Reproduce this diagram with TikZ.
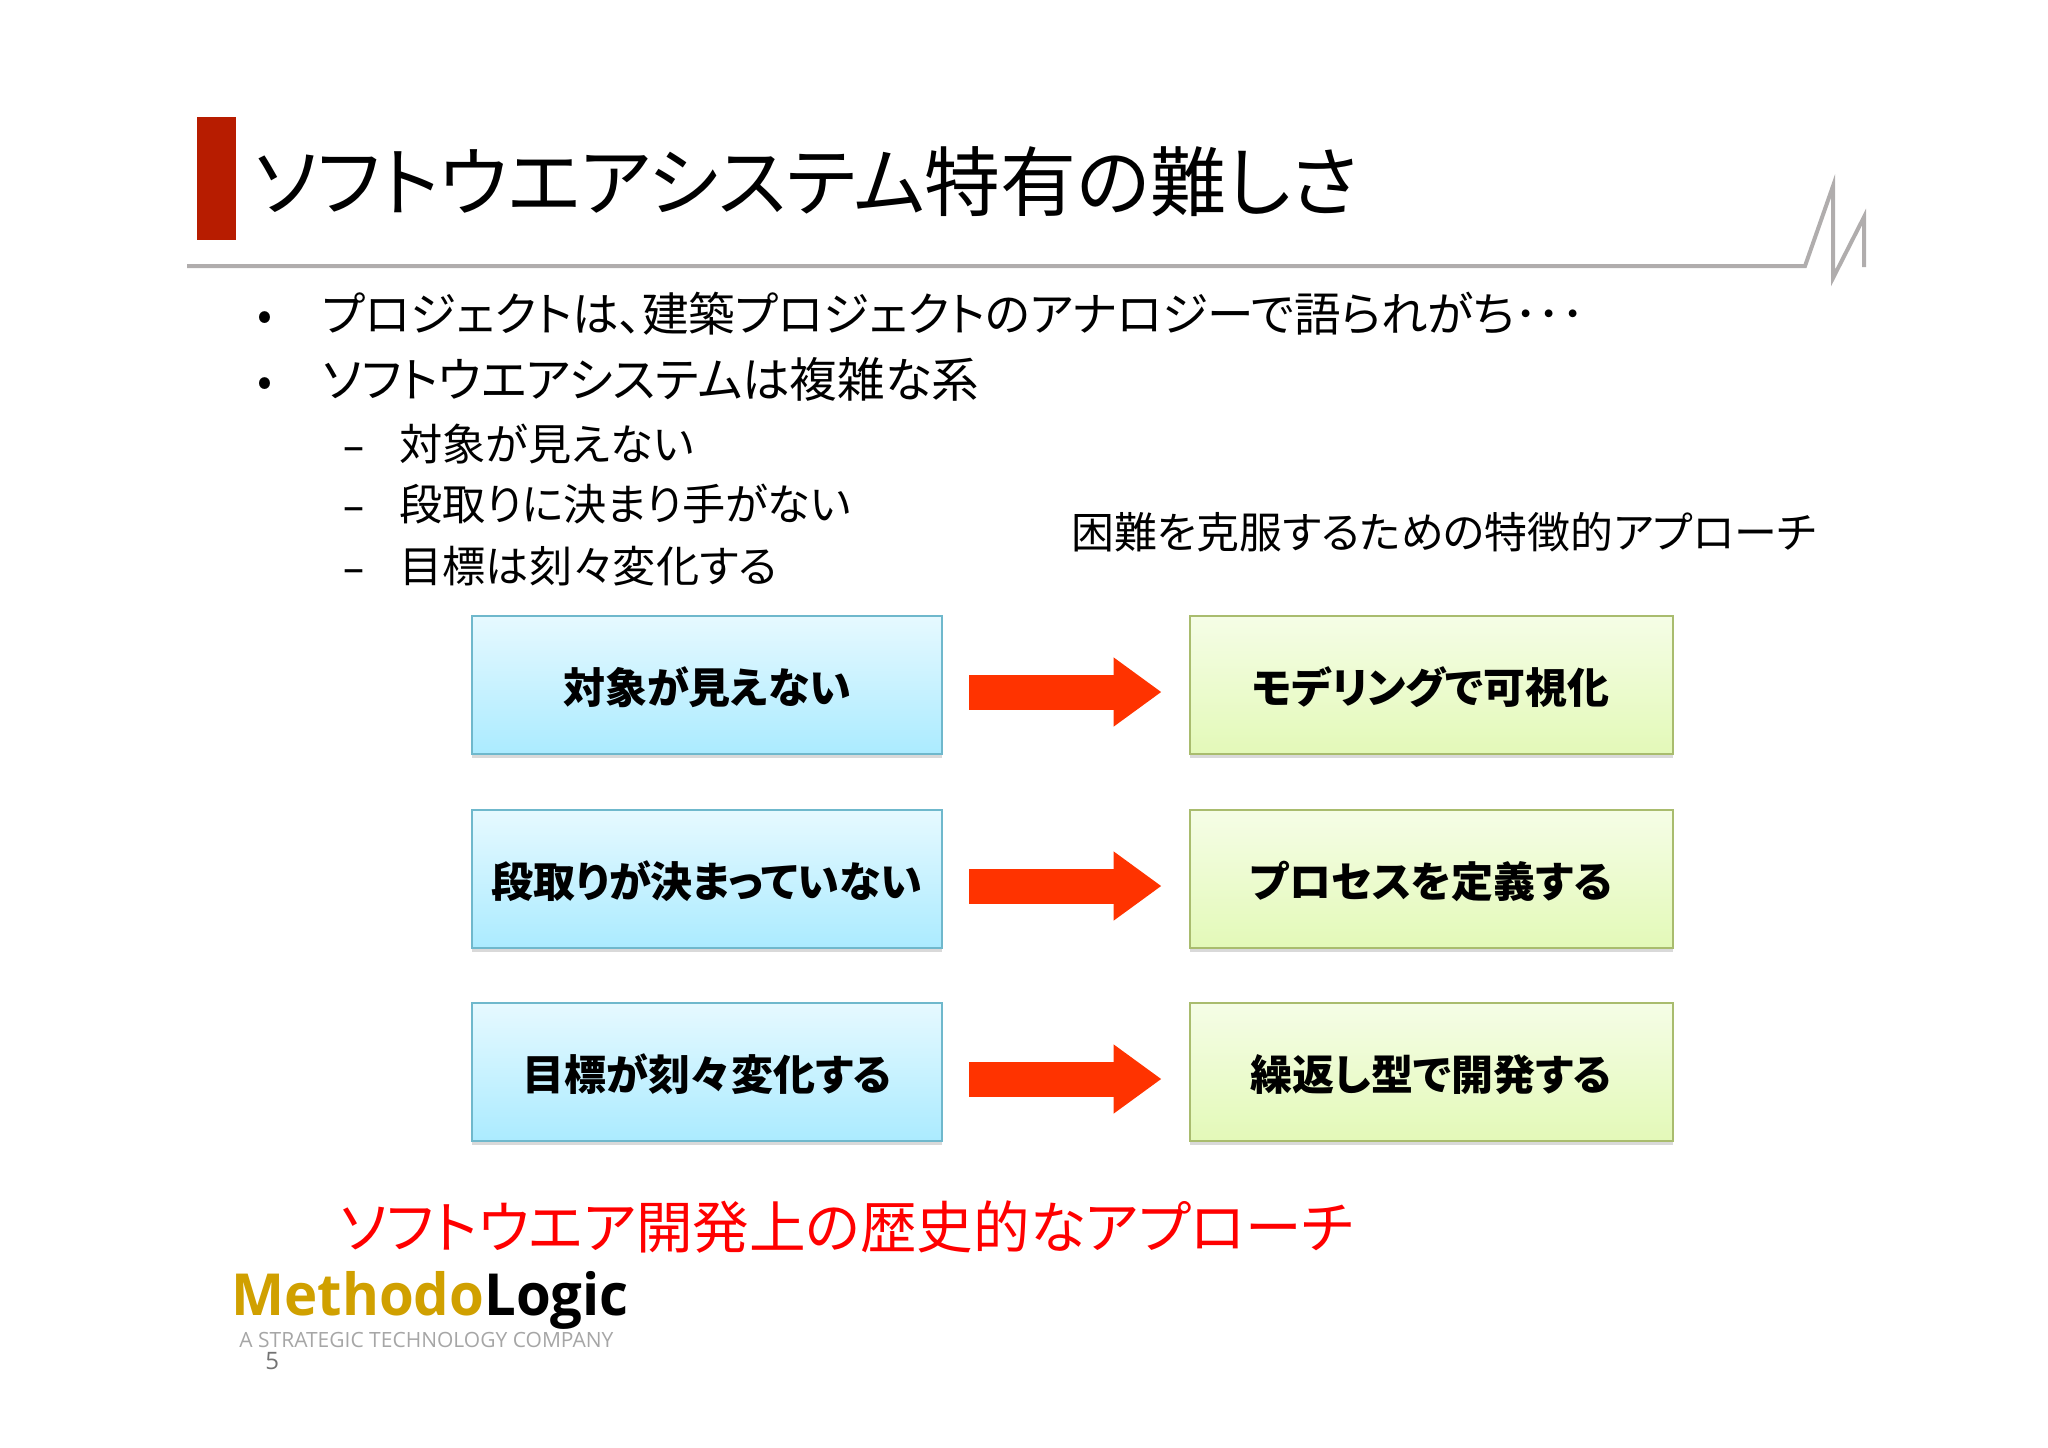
\documentclass[tikz,border=0pt]{standalone}
\usepackage{fontspec}
\setmainfont{Open Sans}
\newfontfamily\logofont[FakeStretch=0.97]{Open Sans}
\newfontfamily\jpfont[RawFeature=+palt]{Noto Sans CJK JP}
\usetikzlibrary{arrows.meta}
\usetikzlibrary{shadows}
\definecolor{barred}{HTML}{B71C00}
\definecolor{rulegray}{HTML}{B0ADAD}
\definecolor{arrowred}{HTML}{FF3300}
\definecolor{logogold}{HTML}{D0A000}

\begin{document}
\begin{tikzpicture}[x=0.5pt,y=-0.5pt,
	jptext/.style={anchor=base west,inner sep=0,font=\jpfont\fontsize{#1}{#1}\selectfont},
	bluebox/.style={rectangle,draw={rgb,255:red,111;green,184;blue,204},line width=1pt,top color={rgb,255:red,230;green,249;blue,255},bottom color={rgb,255:red,171;green,235;blue,255},minimum width=235pt,minimum height=69pt,inner sep=0,text height=21pt,text depth=2.4pt,font=\jpfont\bfseries\fontsize{21}{21}\selectfont,drop shadow={shadow xshift=0pt,shadow yshift=-2pt,opacity=0.3}},
	greenbox/.style={bluebox,draw={rgb,255:red,169;green,188;blue,110},top color={rgb,255:red,245;green,253;blue,230},bottom color={rgb,255:red,227;green,249;blue,184},minimum width=241.5pt},
	redarrow/.style={-{Triangle[length=24pt,width=33pt]},color=arrowred,line width=17.5pt,shorten <=13pt,shorten >=13.5pt}]
	\useasboundingbox (0,0) rectangle (2048,1447);
	\fill[barred] (197,117) rectangle (236,240);
	\draw[color=rulegray,line width=2pt] (187,266) -- (1805,266) -- (1833,186) -- (1833,278) -- (1864,217) -- (1864,267);
	\node[jptext=38] (title) at (254,210) {ソフトウエアシステム特有の難しさ};
	\node[jptext=22] (bulleta) at (257,330) {\textbullet};
	\node[jptext=23.3] (linea) at (322,331) {プロジェクトは、建築プロジェクトのアナロジーで語られがち･･･};
	\node[jptext=22] (bulletb) at (257,396) {\textbullet};
	\node[jptext=23.8] (lineb) at (322,397) {ソフトウエアシステムは複雑な系};
	\foreach \y/\txt in {460/対象が見えない,520/段取りに決まり手がない,582/目標は刻々変化する}{
		\node[jptext=21] (dash\y) at (343,\y) {\rmfamily –};
		\node[jptext=21.6] (sub\y) at (399,\y) {\txt};
	}
	\node[jptext=21.45] (approach) at (1071,548) {困難を克服するための特徴的アプローチ};
	\foreach \i/\y/\ltxt/\rtxt in {1/685/対象が見えない/モデリングで可視化,2/879/段取りが決まっていない/プロセスを定義する,3/1072/目標が刻々変化する/繰返し型で開発する}{
		\node[bluebox] (left\i) at (707,\y) {\ltxt};
		\node[greenbox] (right\i) at (1431,\y) {\rtxt};
		\draw[redarrow] ([yshift=-3.5pt]left\i.east) -- ([yshift=-3.5pt]right\i.west);
	}
	\node[jptext=28.3,text=red] (history) at (340,1248) {ソフトウエア開発上の歴史的なアプローチ};
	\node[anchor=base west,inner sep=0,font=\logofont\bfseries\fontsize{29}{29}\selectfont] (logo) at (231,1315) {\textcolor{logogold}{Methodo}Logic};
	\node[anchor=base west,inner sep=0,text=black!35,font=\fontsize{10.5}{10.5}\selectfont] (tagline) at (239,1347) {A STRATEGIC TECHNOLOGY COMPANY};
	\node[anchor=base west,inner sep=0,text=black!55,font=\fontsize{12}{12}\selectfont] (pagenum) at (265,1369) {5};
\end{tikzpicture}
\end{document}
